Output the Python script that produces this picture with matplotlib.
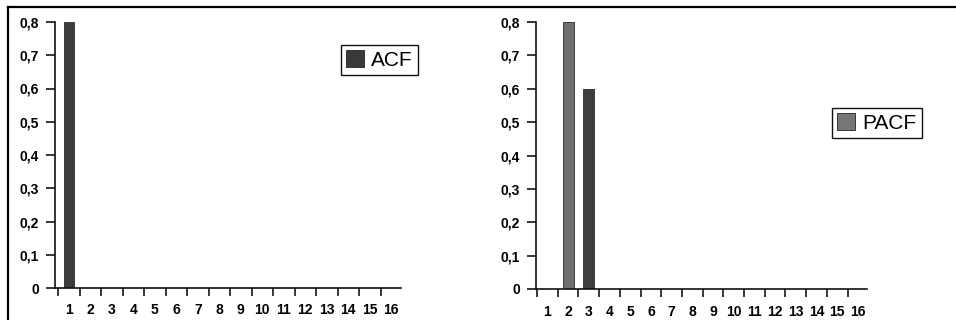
import matplotlib
matplotlib.use('Agg')
import matplotlib.pyplot as plt
from matplotlib.patches import Patch
from matplotlib.lines import Line2D
import numpy as np

# lags and autocorrelation values
lags = list(range(1, 17))
acf = [0.8, 0, 0, 0, 0, 0, 0, 0, 0, 0, 0, 0, 0, 0, 0, 0]
pacf = [0, 0.8, 0.6, 0, 0, 0, 0, 0, 0, 0, 0, 0, 0, 0, 0, 0]
yticks = [0, 0.1, 0.2, 0.3, 0.4, 0.5, 0.6, 0.7, 0.8]
ytick_labels = ['0', '0,1', '0,2', '0,3', '0,4', '0,5', '0,6', '0,7', '0,8']

plt.rcParams['font.family'] = ['Liberation Sans', 'DejaVu Sans']

fig = plt.figure(figsize=(9.56, 3.2), dpi=100)
fig.patch.set_facecolor('white')

ax1 = fig.add_axes([55/956, 1 - 288/320, 346/956, 266/320])
ax2 = fig.add_axes([536/956, 1 - 289/320, 331/956, 267/320])


def style_axis(ax, xlim, label_pad):
    for s in ['top', 'right']:
        ax.spines[s].set_visible(False)
    for s in ['left', 'bottom']:
        ax.spines[s].set_linewidth(1.2)
        ax.spines[s].set_color('#111111')
    ax.set_xlim(*xlim)
    ax.set_ylim(0, 0.8)
    ax.set_yticks(yticks)
    ax.set_yticklabels(ytick_labels, fontsize=10, fontweight='bold')
    ax.tick_params(axis='y', direction='out', length=6.5, width=1.1, pad=5)
    ax.set_xticks(lags)
    ax.set_xticklabels([str(l) for l in lags], fontsize=10, fontweight='bold')
    ax.set_xticks(np.arange(0.5, 16, 1.0), minor=True)
    ax.tick_params(axis='x', which='major', length=0, pad=label_pad)
    ax.tick_params(axis='x', which='minor', direction='out', length=6, width=1.1)


style_axis(ax1, (0.36, 16.45), 11)
style_axis(ax2, (0.45, 16.44), 11.5)

ax1.bar(lags, acf, width=0.46, color='#3d3d3d', edgecolor='#2a2a2a', linewidth=0.6)
pacf_colors = ['#6f6f6f', '#6f6f6f', '#3e3e3e'] + ['#3e3e3e'] * 13
ax2.bar(lags, pacf, width=0.53, color=pacf_colors, edgecolor='#2a2a2a', linewidth=0.6)


def add_legend(ax, label, color, anchor):
    leg = ax.legend(handles=[Patch(facecolor=color, edgecolor='#222222', linewidth=0.6)],
                    labels=[label], loc='upper left', bbox_to_anchor=anchor,
                    bbox_transform=fig.transFigure, fontsize=15, fancybox=False,
                    framealpha=1, edgecolor='#111111', handlelength=0.85,
                    handleheight=0.85, handletextpad=0.35, borderpad=0.25,
                    borderaxespad=0)
    leg.get_frame().set_linewidth(1.0)


add_legend(ax1, 'ACF', '#3a3a3a', (341/956, 1 - 45/320))
add_legend(ax2, 'PACF', '#767676', (832/956, 1 - 108/320))

# scanned page frame along the top and left
fig.add_artist(Line2D([8/956, 1], [1 - 6.5/320, 1 - 6.5/320], color='black', linewidth=1.6))
fig.add_artist(Line2D([8/956, 8/956], [0, 1 - 6.5/320], color='black', linewidth=1.6))

fig.savefig('out.png', dpi=100, facecolor='white')
